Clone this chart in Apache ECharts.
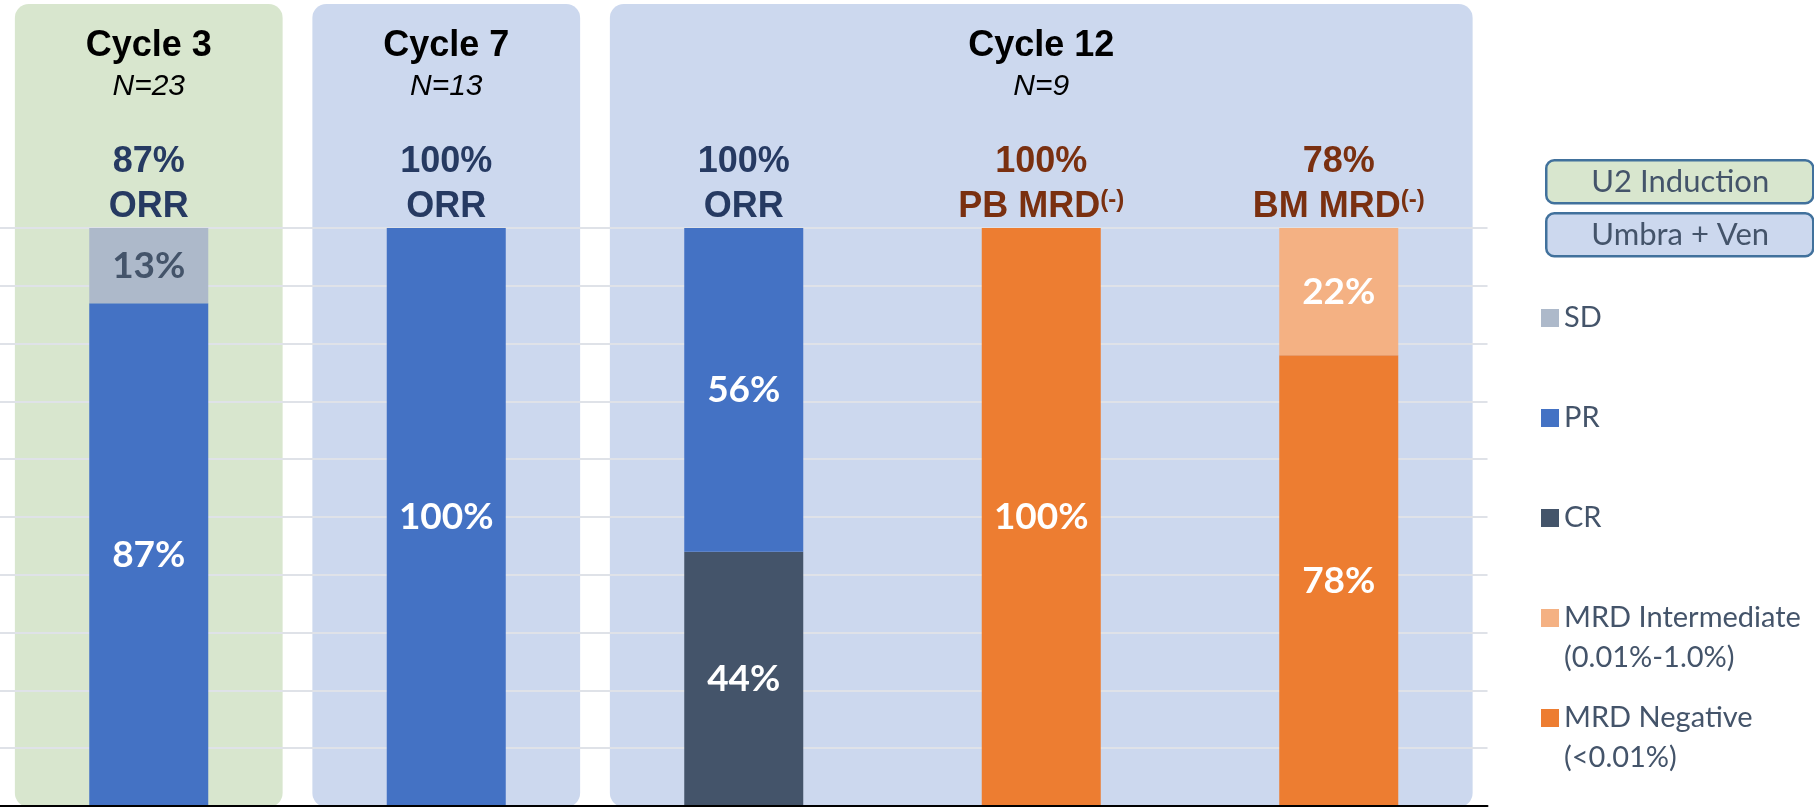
<!DOCTYPE html>
<html>
<head>
<meta charset="utf-8">
<script src="https://cdn.jsdelivr.net/npm/echarts@6/dist/echarts.min.js"></script>
<style>
  html, body { margin: 0; padding: 0; background: #ffffff; }
  #chart { width: 1814px; height: 808px; }
</style>
</head>
<body>
<div id="chart"></div>
<script>
// ---------------- data ----------------
const categories = ['Cycle 3 ORR', 'Cycle 7 ORR', 'Cycle 12 ORR', 'Cycle 12 PB MRD', 'Cycle 12 BM MRD'];
const crValues      = [null, null, 44, null, null];
const prValues      = [87, 100, 56, null, null];
const sdValues      = [13, null, null, null, null];
const mrdNegValues  = [null, null, null, 100, 78];
const mrdIntValues  = [null, null, null, null, 22];

const headerPct  = ['87%', '100%', '100%', '100%', '78%'];
const headerName = ['ORR', 'ORR', 'ORR', 'PB MRD', 'BM MRD'];
const headerSup  = ['', '', '', '(-)', '(-)'];
const headerKind = ['orr', 'orr', 'orr', 'mrd', 'mrd'];

const panelStart = [0, 1, 2];
const panelEnd   = [0, 1, 4];
const panelTitle = ['Cycle 3', 'Cycle 7', 'Cycle 12'];
const panelN     = ['N=23', 'N=13', 'N=9'];
const panelArm   = ['U2 Induction', 'Umbra + Ven', 'Umbra + Ven'];

const legendOrder = ['SD', 'PR', 'CR', 'MRD Intermediate', 'MRD Negative'];
const legendSub   = { 'MRD Intermediate': '(0.01%-1.0%)', 'MRD Negative': '(<0.01%)' };
const armLegend   = ['U2 Induction', 'Umbra + Ven'];

// ---------------- styles ----------------
const armFill = { 'U2 Induction': '#D8E6CE', 'Umbra + Ven': '#CCD8EE' };
const headerColor = { orr: '#263A62', mrd: '#7A3010' };
const HEAD_FONT = '"Liberation Sans", Arial, sans-serif';
const BODY_FONT = 'Lato, "Noto Sans", sans-serif';

const chart = echarts.init(document.getElementById('chart'), null, { renderer: 'canvas' });

function barLabel(color) {
  return {
    show: true, position: 'inside',
    formatter: p => p.value + '%',
    fontFamily: BODY_FONT, fontWeight: 'bold', fontSize: 37, color: color
  };
}

function barSeries(name, values, color, labelColor) {
  return {
    type: 'bar', name: name, stack: 'all', data: values, barWidth: '40%',
    itemStyle: { color: color }, label: barLabel(labelColor || '#ffffff'),
    emphasis: { disabled: true }, z: 2
  };
}

const panelSeries = {
  type: 'custom', name: 'panels', z: -1, silent: true, clip: false,
  data: panelStart.map((s, i) => [s, panelEnd[i], 0]),
  encode: { x: [0, 1], y: 2 },
  renderItem: function (params, api) {
    const i = params.dataIndex;
    const s = api.value(0), e = api.value(1);
    const band = api.size([1, 0])[0];
    const x0 = api.coord([s, 0])[0] - band * 0.45;
    const x1 = api.coord([e, 0])[0] + band * 0.45;
    const yb = api.coord([s, 0])[1];
    const cx = (x0 + x1) / 2;
    return {
      type: 'group',
      children: [
        { type: 'rect', shape: { x: x0, y: 4, width: x1 - x0, height: yb + 1 - 4, r: 14 },
          style: { fill: armFill[panelArm[i]] } },
        { type: 'text', x: cx, y: 46.5,
          style: { text: panelTitle[i], font: 'bold 36px ' + HEAD_FONT, fill: '#000000',
                   align: 'center', verticalAlign: 'middle' } },
        { type: 'text', x: cx, y: 87,
          style: { text: panelN[i], font: 'italic 30px ' + HEAD_FONT, fill: '#000000',
                   align: 'center', verticalAlign: 'middle' } }
      ]
    };
  }
};

const headerSeries = {
  type: 'custom', name: 'headers', z: 4, silent: true, clip: false,
  data: categories.map((c, i) => [i, 100]),
  encode: { x: 0, y: 1 },
  renderItem: function (params, api) {
    const i = params.dataIndex;
    const p = api.coord([api.value(0), api.value(1)]);
    const col = headerColor[headerKind[i]];
    const sup = headerSup[i] ? '{sup|' + headerSup[i] + '}' : '';
    return {
      type: 'text', x: p[0], y: p[1] + 1.5,
      style: {
        text: '{pct|' + headerPct[i] + '}\n{lab|' + headerName[i] + '}' + sup,
        align: 'center', verticalAlign: 'bottom',
        rich: {
          pct: { fontFamily: HEAD_FONT, fontWeight: 'bold', fontSize: 36, lineHeight: 45, fill: col },
          lab: { fontFamily: HEAD_FONT, fontWeight: 'bold', fontSize: 36, lineHeight: 45, fill: col },
          sup: { fontFamily: HEAD_FONT, fontWeight: 'bold', fontSize: 24, fill: col,
                 verticalAlign: 'middle', padding: [0, 0, 14, 0] }
        }
      }
    };
  }
};

const option = {
  animation: false,
  backgroundColor: '#ffffff',
  grid: { left: 0, right: 326.5, top: 228, bottom: 2, containLabel: false },
  xAxis: {
    type: 'category', data: categories, z: 5,
    axisLine: { show: true, lineStyle: { color: '#000000', width: 2 } },
    axisTick: { show: false }, axisLabel: { show: false }, splitLine: { show: false }
  },
  yAxis: {
    type: 'value', min: 0, max: 100, interval: 10, z: 0,
    axisLine: { show: false }, axisTick: { show: false }, axisLabel: { show: false },
    splitLine: { show: true, lineStyle: { color: '#DFE2E8', width: 2 } }
  },
  legend: {
    orient: 'vertical', left: 1541, top: 258, padding: 0,
    itemWidth: 18, itemHeight: 18, itemGap: -20, icon: 'rect',
    data: legendOrder, selectedMode: false,
    formatter: name => '\n' + name + '\n' + (legendSub[name] || ''),
    textStyle: { fontFamily: BODY_FONT, fontSize: 29, color: '#44546A', lineHeight: 40 }
  },
  graphic: armLegend.map((arm, k) => ({
    type: 'group', left: 1545, top: 159 + k * 53,
    children: [
      { type: 'rect', shape: { x: 0, y: 0, width: 267, height: 43, r: 8 },
        style: { fill: armFill[arm], stroke: '#41719C', lineWidth: 2.5 } },
      { type: 'text', x: 134, y: 22,
        style: { text: arm, font: '31px ' + BODY_FONT, fill: '#44546A', align: 'center', verticalAlign: 'middle' } }
    ]
  })),
  series: [
    panelSeries,
    barSeries('CR', crValues, '#44546A'),
    barSeries('PR', prValues, '#4472C4'),
    barSeries('SD', sdValues, '#ADB9CA', '#44546A'),
    barSeries('MRD Negative', mrdNegValues, '#ED7D31'),
    barSeries('MRD Intermediate', mrdIntValues, '#F4B183'),
    headerSeries
  ]
};

chart.setOption(option);
</script>
</body>
</html>
